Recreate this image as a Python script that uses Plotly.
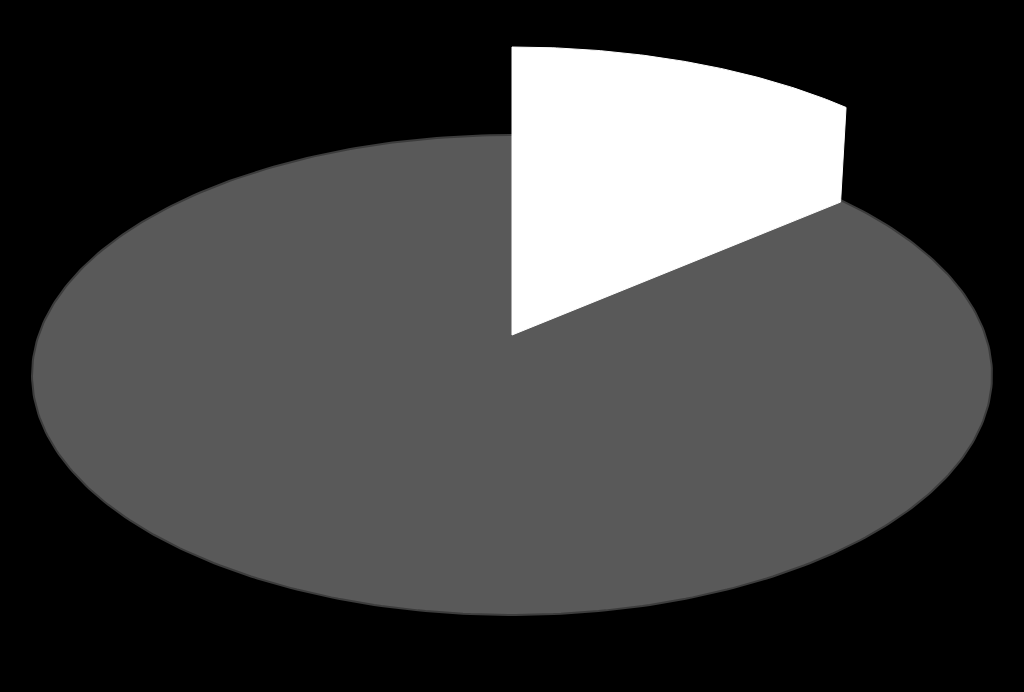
import numpy as np
import plotly.graph_objects as go

labels = ["Other", "Highlighted"]
values = [88, 12]
colors = ["#595959", "#ffffff"]

# geometry (pixel space)
W, H = 1024, 692
cx, cy = 512, 375        # base ellipse centre
a, b = 480, 240          # base ellipse radii
lift_top = 105           # top face centre raised
ta, tb = 488, 223        # top-face radii of exploded slice
bottom_cy = 335          # bottom centre of exploded slice

total = sum(values)
theta = 2 * np.pi * values[1] / total  # clockwise from 12 o'clock

fig = go.Figure()

# base (grey) ellipse
t = np.linspace(0, 2 * np.pi, 400)
fig.add_trace(go.Scatter(
    x=cx + a * np.sin(t), y=cy - b * np.cos(t),
    fill="toself", fillcolor=colors[0], mode="lines",
    line=dict(color="#3c3c3c", width=2), hoverinfo="skip", name=labels[0]))

# exploded white slice
tcy = cy - lift_top
ang = np.linspace(0, theta, 100)
xs = list(cx + ta * np.sin(ang)) + [cx + a * np.sin(theta), cx, cx]
ys = list(tcy - tb * np.cos(ang)) + [cy - b * np.cos(theta) + 2, bottom_cy, tcy - tb]
fig.add_trace(go.Scatter(
    x=xs, y=ys, fill="toself", fillcolor=colors[1], mode="lines",
    line=dict(color=colors[1], width=1), hoverinfo="skip", name=labels[1]))

fig.update_layout(
    width=W, height=H, margin=dict(l=0, r=0, t=0, b=0),
    paper_bgcolor="black", plot_bgcolor="black", showlegend=False,
    xaxis=dict(range=[0, W], visible=False, fixedrange=True),
    yaxis=dict(range=[H, 0], visible=False, fixedrange=True),
)
fig.write_html("out.html", config={"displayModeBar": False})

# remove default page margin so the figure fills the window
with open("out.html", "r", encoding="utf-8") as f:
    html = f.read()
html = html.replace("<body>", '<body style="margin:0;background:black;overflow:hidden">', 1)
with open("out.html", "w", encoding="utf-8") as f:
    f.write(html)
